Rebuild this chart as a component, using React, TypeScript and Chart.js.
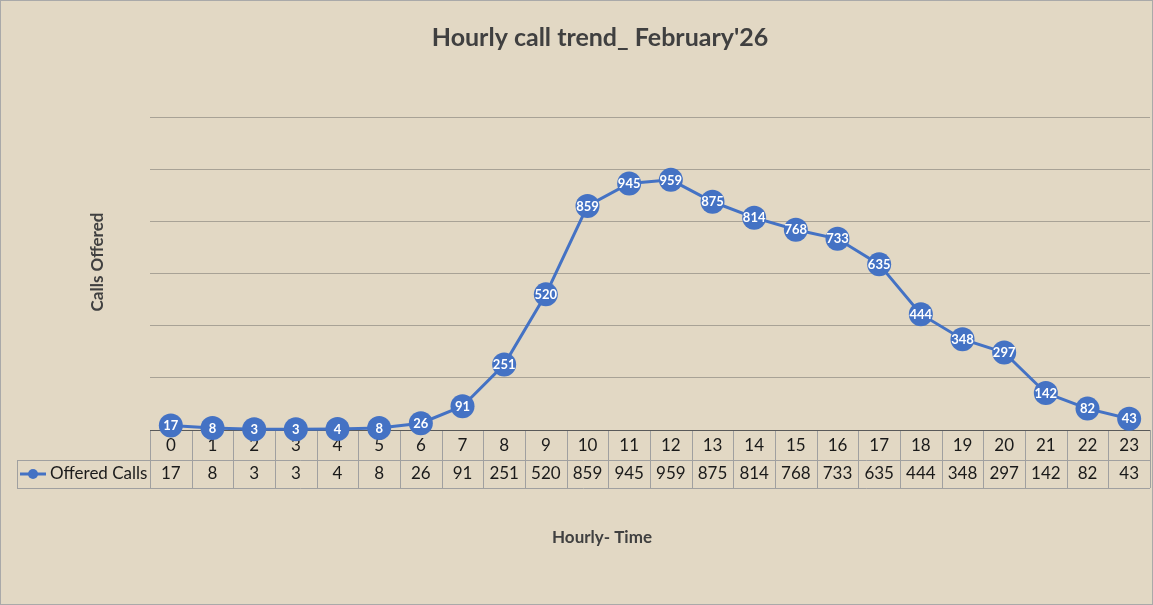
import React, { useEffect, useRef } from "react";
import { Chart, registerables } from "chart.js";

Chart.register(...registerables);

const hours: string[] = ["0","1","2","3","4","5","6","7","8","9","10","11","12","13","14","15","16","17","18","19","20","21","22","23"];
const offeredCalls: number[] = [17, 8, 3, 3, 4, 8, 26, 91, 251, 520, 859, 945, 959, 875, 814, 768, 733, 635, 444, 348, 297, 142, 82, 43];
const seriesName = "Offered Calls";
const chartTitle = "Hourly call trend_ February'26";
const yTitle = "Calls Offered";
const xTitle = "Hourly- Time";

const BLUE = "#4472C4";
const FONT = "Lato, 'Open Sans', sans-serif";

const customPlugin = {
  id: "excelLook",
  beforeDraw(chart: any) {
    const { ctx, width, height } = chart;
    ctx.save();
    ctx.fillStyle = "#e2d8c4";
    ctx.fillRect(0, 0, width, height);
    ctx.strokeStyle = "#a9a9a9";
    ctx.lineWidth = 1;
    ctx.strokeRect(0.5, 0.5, width - 1, height - 1);
    // titles
    ctx.fillStyle = "#404040";
    ctx.textAlign = "center";
    ctx.textBaseline = "middle";
    ctx.font = `bold 25px ${FONT}`;
    ctx.fillText(chartTitle, 600, 38);
    ctx.font = `bold 17px ${FONT}`;
    ctx.fillText(xTitle, 602, 538);
    ctx.save();
    ctx.translate(98, 262);
    ctx.rotate(-Math.PI / 2);
    ctx.fillText(yTitle, 0, 0);
    ctx.restore();
    ctx.restore();
  },
  beforeDatasetsDraw(chart: any) {
    const { ctx, chartArea, scales } = chart;
    const x = scales.x;
    const n = hours.length;
    const bw = (chartArea.right - chartArea.left) / n;
    const top = chartArea.bottom;
    const mid = top + 30;
    const bot = mid + 28;
    const leftCell = 17;
    ctx.save();
    ctx.strokeStyle = "#a0a0a0";
    ctx.lineWidth = 1;
    ctx.beginPath();
    for (let i = 0; i <= n; i++) {
      const xx = Math.round(chartArea.left + i * bw) + 0.5;
      ctx.moveTo(xx, top);
      ctx.lineTo(xx, bot);
    }
    ctx.moveTo(leftCell + 0.5, mid);
    ctx.lineTo(leftCell + 0.5, bot);
    ctx.moveTo(leftCell, mid + 0.5);
    ctx.lineTo(chartArea.right, mid + 0.5);
    ctx.moveTo(leftCell, bot + 0.5);
    ctx.lineTo(chartArea.right, bot + 0.5);
    ctx.stroke();
    // axis line
    ctx.strokeStyle = "#595959";
    ctx.beginPath();
    ctx.moveTo(chartArea.left, Math.round(top) + 0.5);
    ctx.lineTo(chartArea.right, Math.round(top) + 0.5);
    ctx.stroke();
    // text
    ctx.fillStyle = "#1a1a1a";
    ctx.font = `17px ${FONT}`;
    ctx.textAlign = "center";
    ctx.textBaseline = "middle";
    for (let i = 0; i < n; i++) {
      const cx = x.getPixelForValue(i);
      ctx.fillText(hours[i], cx, top + 16);
      ctx.fillText(String(offeredCalls[i]), cx, mid + 14);
    }
    // legend key
    ctx.textAlign = "left";
    ctx.fillText(seriesName, 50, mid + 14);
    ctx.strokeStyle = BLUE;
    ctx.lineWidth = 3;
    ctx.beginPath();
    ctx.moveTo(20, mid + 14);
    ctx.lineTo(46, mid + 14);
    ctx.stroke();
    ctx.fillStyle = BLUE;
    ctx.beginPath();
    ctx.arc(33, mid + 14, 5, 0, Math.PI * 2);
    ctx.fill();
    ctx.restore();
  },
  afterDatasetsDraw(chart: any) {
    const { ctx } = chart;
    const meta = chart.getDatasetMeta(0);
    ctx.save();
    ctx.fillStyle = "#ffffff";
    ctx.font = `bold 13px ${FONT}`;
    ctx.textAlign = "center";
    ctx.textBaseline = "middle";
    meta.data.forEach((pt: any, i: number) => {
      ctx.fillText(String(offeredCalls[i]), pt.x, pt.y + 0.5);
    });
    ctx.restore();
  },
};

export default function App() {
  const ref = useRef<HTMLCanvasElement | null>(null);
  useEffect(() => {
    document.body.style.margin = "0";
    if (!ref.current) return;
    const chart = new Chart(ref.current, {
      type: "line",
      data: {
        labels: hours,
        datasets: [
          {
            label: seriesName,
            data: offeredCalls,
            borderColor: BLUE,
            backgroundColor: BLUE,
            borderWidth: 3,
            pointRadius: 12,
            pointHoverRadius: 12,
            pointBackgroundColor: BLUE,
            pointBorderColor: BLUE,
            pointBorderWidth: 0,
            tension: 0,
            clip: false as any,
          },
        ],
      },
      options: {
        animation: false,
        responsive: true,
        maintainAspectRatio: false,
        layout: { autoPadding: false, padding: { left: 150, right: 3, top: 117, bottom: 175 } },
        plugins: {
          legend: { display: false },
          title: { display: false },
          tooltip: { enabled: false },
        },
        scales: {
          x: {
            offset: true,
            grid: { display: false, drawTicks: false },
            border: { display: false },
            ticks: { display: false },
          },
          y: {
            min: 0,
            max: 1200,
            ticks: { display: false, stepSize: 200 },
            grid: { color: "#a8a296", lineWidth: 1, drawTicks: false },
            border: { display: false },
          },
        },
      },
      plugins: [customPlugin],
    });
    return () => chart.destroy();
  }, []);
  return (
    <div style={{ position: "absolute", left: 0, top: 0, width: 1153, height: 605 }}>
      <canvas ref={ref} />
    </div>
  );
}
